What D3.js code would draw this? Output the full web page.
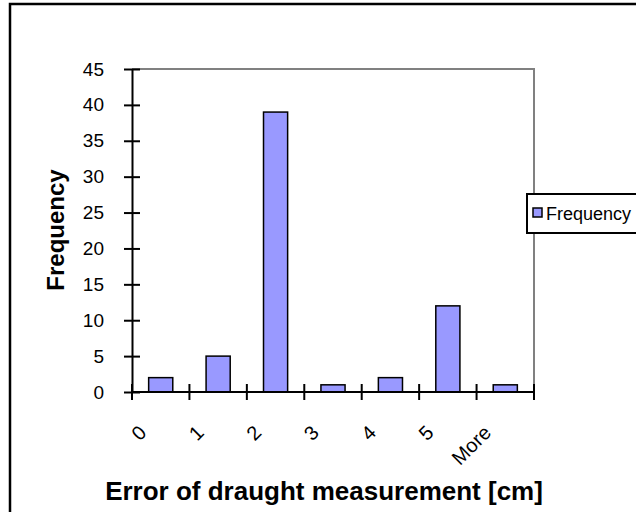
<!DOCTYPE html>
<html>
<head>
<meta charset="utf-8">
<script src="https://cdn.jsdelivr.net/npm/d3@7"></script>
<style>
    body { margin: 0; background: #fff; }
    text { font-family: Arial, "Liberation Sans", sans-serif; fill: #000; }
</style>
</head>
<body>
<div id="chart-area"></div>
<script>

// Chart data
let categories = ["0", "1", "2", "3", "4", "5", "More"];
let frequency = [2, 5, 39, 1, 2, 12, 1];
let yTicks = [0, 5, 10, 15, 20, 25, 30, 35, 40, 45];
let seriesName = "Frequency";

// SVG drawing area
let plot = {left: 132, top: 69, right: 534, bottom: 392};

let svg = d3.select("#chart-area").append("svg")
    .attr("width", 636)
    .attr("height", 512);

// Chart border
svg.append("rect")
    .attr("x", 10)
    .attr("y", 4)
    .attr("width", 700)
    .attr("height", 600)
    .attr("fill", "#fff")
    .attr("stroke", "#000")
    .attr("stroke-width", 2.5);

// Scales
let x = d3.scaleBand()
    .domain(categories)
    .range([plot.left, plot.right])
    .padding(0);

let y = d3.scaleLinear()
    .domain([0, 45])
    .range([plot.bottom, plot.top]);

// Plot area border (top and right)
svg.append("path")
    .attr("d", "M" + plot.left + "," + plot.top + "H" + plot.right + "V" + plot.bottom)
    .attr("fill", "none")
    .attr("stroke", "#808080")
    .attr("stroke-width", 2);

// Bars
let barWidth = x.bandwidth() * 0.42;

svg.selectAll(".bar")
    .data(frequency)
    .enter().append("rect")
    .attr("class", "bar")
    .attr("x", (d, i) => x(categories[i]) + (x.bandwidth() - barWidth) / 2)
    .attr("y", d => y(d))
    .attr("width", barWidth)
    .attr("height", d => y(0) - y(d))
    .attr("fill", "#9999ff")
    .attr("stroke", "#000")
    .attr("stroke-width", 1.5);

// Y axis
let yAxis = d3.axisLeft(y)
    .tickValues(yTicks)
    .tickSizeInner(8)
    .tickSizeOuter(0)
    .tickPadding(20);

let yAxisGroup = svg.append("g")
    .attr("transform", "translate(" + plot.left + ",0)")
    .call(yAxis);

yAxisGroup.select(".domain").attr("stroke-width", 2);
yAxisGroup.selectAll(".tick line")
    .attr("x1", 8)
    .attr("stroke-width", 2);
yAxisGroup.selectAll(".tick text")
    .attr("font-size", 19)
    .attr("font-family", "Arial, 'Liberation Sans', sans-serif");

// X axis (ticks between categories)
let boundaries = categories.map(c => x(c)).concat([plot.right]);

svg.append("line")
    .attr("x1", plot.left)
    .attr("x2", plot.right)
    .attr("y1", plot.bottom)
    .attr("y2", plot.bottom)
    .attr("stroke", "#000")
    .attr("stroke-width", 2);

svg.selectAll(".x-tick")
    .data(boundaries)
    .enter().append("line")
    .attr("class", "x-tick")
    .attr("x1", d => d)
    .attr("x2", d => d)
    .attr("y1", plot.bottom - 8)
    .attr("y2", plot.bottom + 8)
    .attr("stroke", "#000")
    .attr("stroke-width", 2);

svg.selectAll(".x-label")
    .data(categories)
    .enter().append("text")
    .attr("class", "x-label")
    .attr("text-anchor", "end")
    .attr("font-size", 20)
    .attr("transform", d => "translate(" + (x(d) + x.bandwidth() / 2 - 13) + "," + (plot.bottom + 42) + ") rotate(-45)")
    .text(d => d);

// Axis titles
svg.append("text")
    .attr("x", 324)
    .attr("y", 500)
    .attr("text-anchor", "middle")
    .attr("font-size", 26)
    .attr("font-weight", "bold")
    .text("Error of draught measurement [cm]");

svg.append("text")
    .attr("transform", "translate(64,230) rotate(-90)")
    .attr("text-anchor", "middle")
    .attr("font-size", 24)
    .attr("font-weight", "bold")
    .text("Frequency");

// Legend
let legend = svg.append("g")
    .attr("transform", "translate(527,194)");

legend.append("rect")
    .attr("width", 200)
    .attr("height", 39)
    .attr("fill", "#fff")
    .attr("stroke", "#000")
    .attr("stroke-width", 2);

legend.append("rect")
    .attr("x", 6)
    .attr("y", 14)
    .attr("width", 9)
    .attr("height", 9)
    .attr("fill", "#9999ff")
    .attr("stroke", "#000")
    .attr("stroke-width", 1.5);

legend.append("text")
    .attr("x", 19)
    .attr("y", 26)
    .attr("font-size", 18)
    .text(seriesName);

</script>
</body>
</html>
